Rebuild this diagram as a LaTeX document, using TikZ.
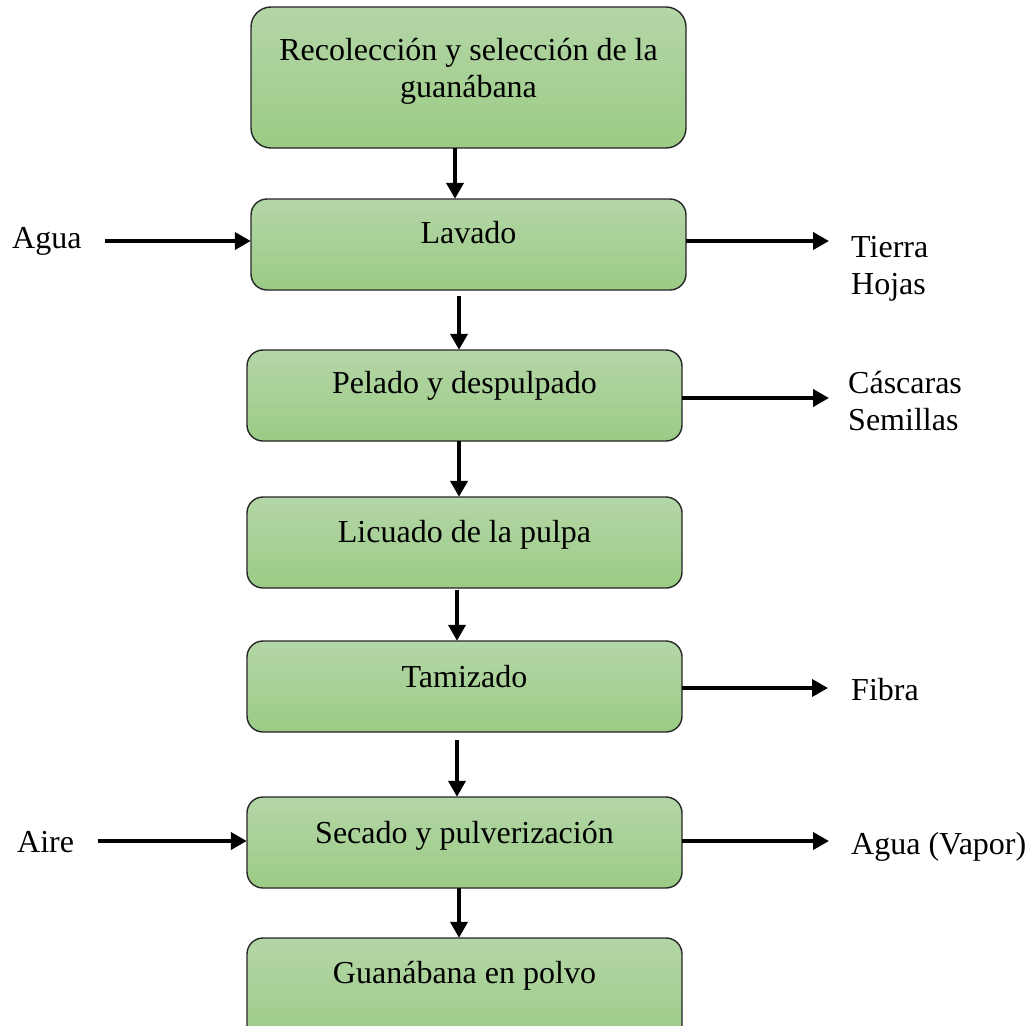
\documentclass[tikz,border=0pt]{standalone}
\usepackage{fontspec}
\setmainfont{Liberation Serif}
\usetikzlibrary{arrows.meta}
\definecolor{gtop}{HTML}{B4D6A7}
\definecolor{gbot}{HTML}{9BCB85}
\tikzset{
  procbox/.style={draw=black!85, line width=1.4pt, rounded corners=16pt,
    top color=gtop, bottom color=gbot, inner sep=0pt},
  txt/.style={inner sep=0pt, font=\fontsize{32}{37}\selectfont},
  arr/.style={line width=3.8pt, -{Triangle[length=16pt,width=17pt]}},
}
\begin{document}
\begin{tikzpicture}[x=1pt,y=-1pt]
\useasboundingbox (0,0) rectangle (1032,1025);
% boxes
\path[procbox,rounded corners=20pt] (251,7) rectangle (686,148);
\node[inner sep=0pt, minimum width=435pt, minimum height=141pt] (b1) at (468.5,77.5) {};
\path[procbox] (251,199) rectangle (686,290);
\node[inner sep=0pt, minimum width=435pt, minimum height=91pt] (b2) at (468.5,244.5) {};
\path[procbox] (247,350) rectangle (682,441);
\node[inner sep=0pt, minimum width=435pt, minimum height=91pt] (b3) at (464.5,395.5) {};
\path[procbox] (247,497) rectangle (682,588);
\node[inner sep=0pt, minimum width=435pt, minimum height=91pt] (b4) at (464.5,542.5) {};
\path[procbox] (247,641) rectangle (682,732);
\node[inner sep=0pt, minimum width=435pt, minimum height=91pt] (b5) at (464.5,686.5) {};
\path[procbox] (247,797) rectangle (682,888);
\node[inner sep=0pt, minimum width=435pt, minimum height=91pt] (b6) at (464.5,842.5) {};
\path[procbox] (247,938) rectangle (682,1045);
\node[inner sep=0pt, minimum width=435pt, minimum height=107pt] (b7) at (464.5,991.5) {};
% box texts
\node[txt, anchor=base] at (468.5,60) {Recolección y selección de la};
\node[txt, anchor=base] at (468.5,97) {guanábana};
\node[txt, anchor=base] at (468.5,243) {Lavado};
\node[txt, anchor=base] at (464.5,393) {Pelado y despulpado};
\node[txt, anchor=base] at (464.5,542) {Licuado de la pulpa};
\node[txt, anchor=base] at (464.5,687) {Tamizado};
\node[txt, anchor=base] at (464.5,843) {Secado y pulverización};
\node[txt, anchor=base] at (464.5,983) {Guanábana en polvo};
% side texts
\node[txt, anchor=base west] (agua) at (12,248) {Agua};
\node[txt, anchor=base west] (aire) at (17,852) {Aire};
\node[txt, anchor=base west] (tierra) at (851,257) {Tierra};
\node[txt, anchor=base west] (hojas) at (851,294) {Hojas};
\node[txt, anchor=base west] (cascaras) at (848,393) {Cáscaras};
\node[txt, anchor=base west] (semillas) at (848,430) {Semillas};
\node[txt, anchor=base west] (fibra) at (851,700) {Fibra};
\node[txt, anchor=base west] (vapor) at (851,854) {Agua (Vapor)};
% coordinates for free ends
\coordinate (a1) at (105,241);
\coordinate (a2) at (98,841);
\coordinate (r1) at (829,241);
\coordinate (r3) at (829,398);
\coordinate (r5) at (828,688);
\coordinate (r6) at (829,841);
% vertical arrows
\draw[arr] ([xshift=-13.5pt]b1.south) -- ([xshift=-13.5pt]b2.north);
\draw[arr] ([xshift=-9.5pt,yshift=-6pt]b2.south) -- ([xshift=-5.5pt]b3.north);
\draw[arr] ([xshift=-5.5pt]b3.south) -- ([xshift=-5.5pt]b4.north);
\draw[arr] ([xshift=-7.5pt,yshift=-2pt]b4.south) -- ([xshift=-7.5pt]b5.north);
\draw[arr] ([xshift=-7.5pt,yshift=-8pt]b5.south) -- ([xshift=-7.5pt]b6.north);
\draw[arr] ([xshift=-5.5pt]b6.south) -- ([xshift=-5.5pt]b7.north);
% horizontal arrows
\draw[arr] (a1) -- (a1 -| b2.west);
\draw[arr] (a2) -- (a2 -| b6.west);
\draw[arr] (r1 -| b2.east) -- (r1);
\draw[arr] (r3 -| b3.east) -- (r3);
\draw[arr] (r5 -| b5.east) -- (r5);
\draw[arr] (r6 -| b6.east) -- (r6);
\end{tikzpicture}
\end{document}
